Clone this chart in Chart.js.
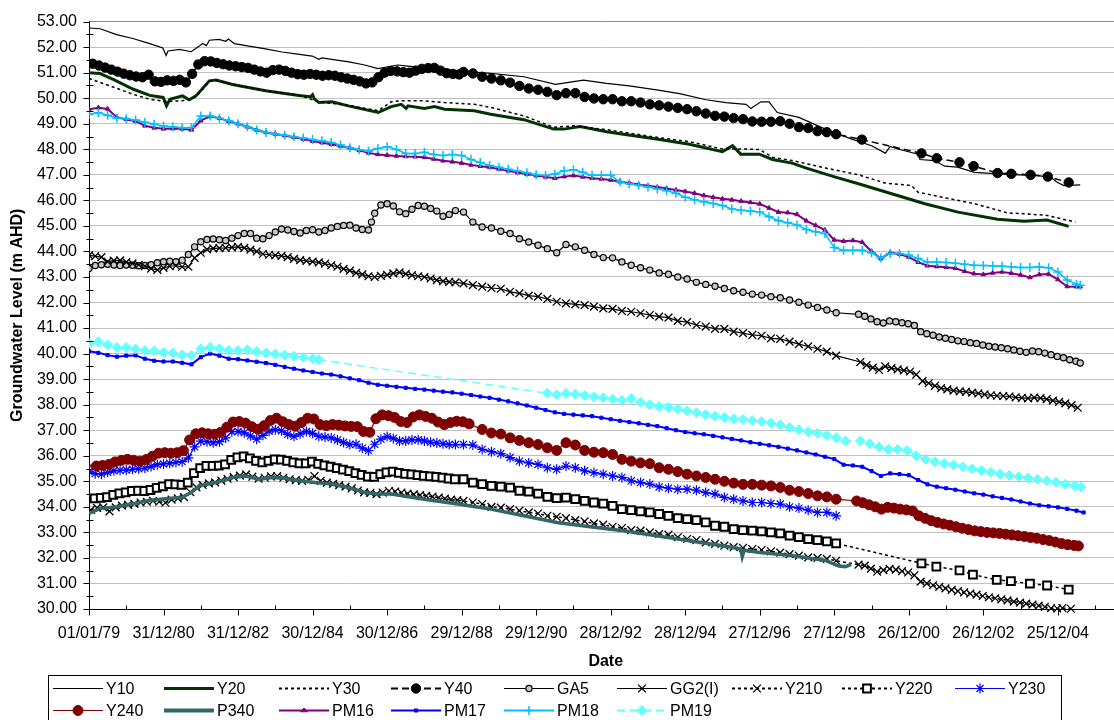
<!DOCTYPE html>
<html>
<head>
<meta charset="utf-8">
<title>Groundwater Level Hydrographs</title>
<style>
  html, body { margin: 0; padding: 0; background: #fff; overflow: hidden; }
  #wrap { width: 1130px; height: 720px; }
</style>
<script src="https://cdn.jsdelivr.net/npm/chart.js@4.4.1/dist/chart.umd.min.js"></script>
</head>
<body>
<div id="wrap"><canvas id="chart" width="1130" height="720"></canvas></div>
<script>
// ---- Axis ticks ----
const X_TICK_LABELS = ['01/01/79', '31/12/80', '31/12/82', '30/12/84', '30/12/86', '29/12/88', '29/12/90',
  '28/12/92', '28/12/94', '27/12/96', '27/12/98', '26/12/00', '26/12/02', '25/12/04'];
const X_TICK_STEP_DAYS = 730;
const X_MAX_DAYS = 10123;
const Y_MIN = 30, Y_MAX = 53;

// ---- Bore readings ----
// Each row is either [year, level] or a run [firstYear, yearsBetweenReadings, level, level, ...]
const Y10 = [[1979.0,52.75],[1979.3,52.72],[1979.74,52.49],[1980.2,52.33],[1980.63,52.14],[1980.98,51.97],[1981.07,51.67],
  [1981.12,51.85],[1981.43,51.91],[1981.74,51.82],[1981.96,52.04],[1982.05,52.14],[1982.15,52.06],[1982.23,52.27],[1982.49,52.30],
  [1982.67,52.23],[1982.74,52.32],[1982.9,52.14],[1983.29,52.04],[1983.74,51.93],[1984.18,51.81],[1984.6,51.73],[1984.99,51.65],
  [1985.17,51.52],[1985.25,51.58],[1985.97,51.42],[1986.4,51.30],[1986.75,51.16],[1987.29,51.30],[1987.56,51.26],[1988.0,51.20],
  [1988.89,51.07],[1989.78,50.97],[1990.67,50.84],[1991.52,50.54],[1992.27,50.71],[1992.89,50.58],[1993.5,50.48],[1994.23,50.33],
  [1994.85,50.18],[1995.56,49.94],[1996.09,49.83],[1996.63,49.76],[1996.76,49.60],[1997.03,49.86],[1997.25,49.86],[1997.47,49.44],
  [1998.05,49.25],[1998.76,48.79],[1999.47,48.40],[2000.0,48.14],[2000.37,47.85],[2000.5,48.11],[2000.71,48.01],[2001.25,47.81],
  [2001.3,47.60],[2001.69,47.56],[2001.96,47.34],[2002.31,47.30],[2002.76,47.10],[2003.65,47.02],[2004.45,46.97],[2004.8,46.91],
  [2004.98,46.71],[2005.16,46.58],[2005.6,46.61]];

const Y20 = [[1979.0,51.00],[1979.29,50.97],[1979.65,50.74],[1980.19,50.35],[1980.63,50.11],[1980.99,50.03],[1981.08,49.70],
  [1981.17,49.96],[1981.51,50.09],[1981.69,49.94],[1981.87,50.09],[1982.23,50.68],[1982.41,50.71],[1982.85,50.54],[1983.74,50.29],
  [1984.63,50.11],[1984.95,50.06],[1985.0,50.14],[1985.05,49.97],[1985.17,49.83],[1985.52,49.86],[1985.96,49.70],[1986.76,49.44],
  [1987.11,49.67],[1987.38,49.76],[1987.51,49.60],[1987.56,49.70],[1988.0,49.60],[1988.27,49.67],[1988.54,49.57],[1989.34,49.51],
  [1989.78,49.37],[1990.67,49.16],[1991.47,48.79],[1991.74,48.79],[1992.18,48.89],[1992.89,48.69],[1993.34,48.59],[1994.23,48.40],
  [1995.11,48.20],[1996.0,47.91],[1996.27,48.14],[1996.49,47.81],[1996.99,47.81],[1997.34,47.60],[1997.87,47.46],[1998.23,47.27],
  [1999.03,46.91],[1999.65,46.65],[2000.54,46.26],[2001.43,45.87],[2002.32,45.54],[2003.38,45.26],[2004.09,45.18],[2004.71,45.23],
  [2005.29,44.98]];

const Y30 = [[1979.0,50.77],[1979.57,50.48],[1980.19,50.15],[1980.63,49.96],[1981.07,49.87],[1981.51,49.90],[1981.87,50.05],
  [1982.23,50.66],[1982.41,50.70],[1982.85,50.55],[1983.74,50.30],[1984.63,50.12],[1985.17,49.86],[1985.96,49.72],[1986.76,49.51],
  [1987.11,49.86],[1987.38,49.90],[1988.0,49.90],[1988.54,49.83],[1989.34,49.76],[1989.78,49.64],[1990.67,49.31],[1991.47,48.86],
  [1992.0,48.92],[1992.89,48.77],[1994.23,48.47],[1995.11,48.30],[1996.0,48.01],[1996.63,48.01],[1996.99,47.99],[1997.34,47.69],
  [1997.87,47.56],[1998.76,47.27],[1999.65,47.00],[2000.36,46.68],[2001.07,46.58],[2001.25,46.32],[2001.87,46.13],[2002.76,45.87],
  [2003.65,45.51],[2004.09,45.48],[2004.71,45.41],[2005.47,45.15]];

const Y40 = [
  [1979.10, 1/6, 51.35,51.28,51.20,51.12,51.04,50.96, 50.90,50.85,50.82,50.92,50.66,50.64, 50.70,50.68,50.72,50.62,50.95,51.32,
    51.45,51.44,51.38,51.33,51.28,51.25, 51.22,51.19,51.12,51.05,51.00,51.10, 51.12,51.07,51.00,50.94,50.92,50.95,
    50.92,50.88,50.90,50.88,50.82,50.77, 50.72,50.66,50.58,50.62,50.82,51.00, 51.07,51.05,51.02,51.00,51.08,51.15,
    51.18,51.19,51.08,50.98,50.95,50.93],
  [1989.05, 0.25, 51.03,50.97,50.84,50.77, 50.70,50.61,50.48,50.38, 50.33,50.25,50.12,50.20, 50.20,50.05,49.99,49.96,
    49.96,49.88,49.88,49.83, 49.76,49.72,49.67,49.62, 49.57,49.49,49.40,49.31, 49.28,49.22,49.18,49.09,
    49.08,49.08,49.10,49.00, 48.87,48.83,48.71,48.67, 48.59],
  [1999.74,48.38],[2001.34,47.84],[2001.75,47.65],[2002.36,47.49],[2002.74,47.34],[2003.38,47.07],[2003.75,47.04],
  [2004.27,47.00],[2004.73,46.93],[2005.29,46.70]];

const GA5 = [
  [1979.00, 1/6, 43.33,43.45,43.48,43.50,43.47,43.45, 43.47,43.46,43.44,43.45,43.48,43.56, 43.60,43.62,43.60,43.66,43.88,44.18,
    44.38,44.47,44.49,44.46,44.43,44.52, 44.62,44.70,44.70,44.52,44.50,44.62, 44.76,44.88,44.84,44.78,44.72,44.82,
    44.85,44.76,44.82,44.92,44.98,45.02, 45.03,44.92,44.86,44.84,45.50,45.82, 45.87,45.78,45.55,45.48,45.65,45.80,
    45.77,45.68,45.58,45.38,45.45,45.60],
  [1986.58,45.15],
  [1989.05, 0.25, 45.54,45.15,44.96,44.92, 44.79,44.70,44.50,44.37, 44.24,44.11,43.95,44.27, 44.18,44.05,43.88,43.76,
    43.75,43.59,43.46,43.36, 43.27,43.16,43.11,43.00, 42.92,42.79,42.71,42.64, 42.55,42.46,42.40,42.33,
    42.29,42.23,42.19,42.10, 42.01,41.90,41.81,41.71, 41.60],
  [1999.65, 1/6, 41.54,41.46,41.36,41.25,41.20,41.28, 41.25,41.21,41.17,41.10,40.86,40.78, 40.72,40.65,40.60,40.55,40.50,40.47,
    40.43,40.40,40.34,40.29,40.26,40.23, 40.19,40.14,40.09,40.05,40.10,40.07, 40.02,39.96,39.89,39.84,39.76,39.70],
  [2005.60,39.63]];

const GG2 = [
  [1979.00, 1/6, 43.85,43.82,43.78,43.60,43.64,43.65, 43.58,43.53,43.48,43.42,43.33,43.28, 43.36,43.42,43.44,43.40,43.40,43.75,
    43.95,44.08,44.12,44.13,44.14,44.16, 44.18,44.14,44.07,44.00,43.90,43.87, 43.85,43.83,43.78,43.71,43.66,43.63,
    43.60,43.57,43.52,43.46,43.40,43.32, 43.25,43.16,43.10,43.03,43.00,43.04, 43.08,43.14,43.18,43.12,43.07,43.03,
    43.00,42.94,42.88,42.84,42.81,42.79],
  [1989.05, 0.25, 42.75,42.68,42.62,42.57, 42.54,42.42,42.36,42.27, 42.23,42.14,42.03,41.97, 41.93,41.90,41.84,41.77,
    41.75,41.67,41.64,41.58, 41.51,41.45,41.41,41.28, 41.23,41.12,41.06,40.97, 40.97,40.86,40.80,40.73,
    40.70,40.60,40.58,40.47, 40.37,40.28,40.19,40.08, 39.92],
  [1999.70, 1/6, 39.67,39.55,39.45,39.36,39.50,39.43, 39.38,39.34,39.30,39.18,38.92,38.84, 38.74,38.65,38.60,38.55,38.52,38.50,
    38.47,38.44,38.40,38.37,38.35,38.34, 38.32,38.29,38.27,38.25,38.28,38.26, 38.22,38.16,38.11,38.05,37.98,37.88]];

const Y210 = [
  [1979.05, 1/6, 33.88,33.96,33.98,33.82,33.98,34.05, 34.08,34.12,34.17,34.20,34.23,34.20, 34.16,34.28,34.33,34.38,34.58,34.76,
    34.86,34.92,34.96,35.03,35.10,35.16, 35.22,35.27,35.18,35.10,35.14,35.19, 35.20,35.14,35.08,35.05,35.02,35.06,
    35.20,35.02,34.95,34.90,34.85,34.79, 34.72,34.64,34.57,34.55,34.50,34.56, 34.62,34.60,34.56,34.52,34.49,34.46,
    34.43,34.40,34.36,34.32,34.28,34.26],
  [1989.05, 0.25, 34.23,34.17,34.11,34.00, 33.97,33.91,33.85,33.78, 33.74,33.65,33.61,33.56, 33.48,33.43,33.35,33.30,
    33.22,33.17,33.09,33.07, 33.00,32.94,32.91,32.81, 32.74,32.70,32.61,32.55, 32.48,32.42,32.39,32.35,
    32.31,32.26,32.21,32.15, 32.09,32.02,32.00,31.96, 31.89],
  [1999.65, 1/6, 31.74,31.70,31.58,31.46,31.52,31.57, 31.54,31.48,31.43,31.32,31.07,31.00, 30.93,30.87,30.81,30.75,30.70,30.65,
    30.60,30.56,30.51,30.46,30.42,30.38, 30.34,30.29,30.25,30.21,30.17,30.13, 30.08,30.03,30.02],
  [2005.12,30.04],[2005.35,30.01]];

const Y220 = [
  [1979.15, 1/6, 34.33,34.35,34.38,34.47,34.53,34.57, 34.62,34.63,34.62,34.66,34.74,34.80, 34.89,34.88,34.86,34.95,35.32,35.52,
    35.60,35.60,35.61,35.66,35.84,35.94, 35.98,35.90,35.80,35.74,35.80,35.86, 35.85,35.80,35.74,35.70,35.70,35.77,
    35.68,35.62,35.57,35.52,35.46,35.40, 35.32,35.25,35.18,35.17,35.28,35.35, 35.38,35.33,35.29,35.27,35.24,35.21,
    35.19,35.17,35.14,35.11,35.08],
  [1989.05, 0.25, 35.08,34.95,34.89,34.82, 34.79,34.75,34.63,34.60, 34.52,34.39,34.34,34.36, 34.30,34.23,34.17,34.13,
    34.04,33.91,33.87,33.82, 33.78,33.72,33.65,33.56, 33.52,33.48,33.39,33.26, 33.22,33.13,33.09,33.07,
    33.04,33.00,32.96,32.87, 32.81,32.74,32.70,32.65, 32.57],
  [2001.34,31.79],[2001.74,31.66],[2002.36,31.51],[2002.72,31.35],[2003.36,31.14],[2003.74,31.09],[2004.25,30.99],
  [2004.71,30.92],[2005.29,30.76]];

const Y230 = [
  [1979.00, 1/6, 35.38,35.30,35.28,35.35,35.41,35.43, 35.44,35.47,35.49,35.52,35.58,35.65, 35.68,35.71,35.74,35.77,35.92,36.35,
    36.57,36.55,36.51,36.55,36.70,36.94, 36.95,36.90,36.78,36.65,36.80,36.96, 37.02,36.98,36.84,36.76,36.86,36.95,
    36.88,36.76,36.73,36.70,36.62,36.52, 36.44,36.45,36.30,36.20,36.45,36.65, 36.75,36.68,36.58,36.58,36.62,36.63,
    36.58,36.53,36.50,36.47,36.44,36.44],
  [1989.05, 0.25, 36.44,36.42,36.25,36.16, 36.08,35.93,35.79,35.72, 35.66,35.53,35.47,35.60, 35.53,35.41,35.34,35.28,
    35.21,35.15,35.02,34.95, 34.89,34.78,34.73,34.69, 34.69,34.65,34.56,34.50, 34.37,34.30,34.23,34.17,
    34.17,34.13,34.11,34.00, 33.95,33.87,33.78,33.78, 33.65]];

const Y240 = [
  [1978.90,35.60],
  [1979.20, 1/6, 35.60,35.62,35.66,35.76,35.82,35.86, 35.82,35.79,35.85,35.98,36.10,36.12, 36.10,36.12,36.20,36.62,36.86,36.90,
    36.86,36.84,36.92,37.12,37.32,37.34, 37.28,37.14,37.04,37.18,37.38,37.47, 37.33,37.22,37.16,37.30,37.47,37.44,
    37.22,37.18,37.22,37.20,37.17,37.15, 37.14,36.95,36.92,37.45,37.60,37.57, 37.50,37.34,37.30,37.52,37.60,37.54,
    37.47,37.32,37.22,37.30,37.35,37.33, 37.25],
  [1989.55, 0.25, 37.03,36.89, 36.85,36.70,36.60,36.51, 36.44,36.31,36.21,36.51, 36.42,36.21,36.14,36.12,
    36.05,35.86,35.79,35.72, 35.69,35.53,35.47,35.38, 35.28,35.21,35.15,35.08, 35.00,34.93,34.88,34.88,
    34.85,34.82,34.76,34.65, 34.60,34.52,34.43,34.39, 34.30],
  [1999.60, 1/6, 34.23,34.16,34.08,34.00,33.91,33.98, 33.95,33.91,33.88,33.84,33.65,33.55, 33.46,33.39,33.33,33.28,33.22,33.16,
    33.11,33.06,33.03,33.00,32.98,32.96, 32.93,32.90,32.87,32.84,32.80,32.77, 32.72,32.68,32.62,32.56,32.52,32.49],
  [2005.55,32.47]];

const P340 = [[1979.0,33.74],[1979.29,33.93],[1979.74,34.00],[1980.19,34.12],[1980.63,34.26],[1981.07,34.32],[1981.51,34.38],
  [1981.74,34.56],[1981.96,34.82],[1982.4,34.95],[1982.85,35.15],[1983.2,35.21],[1983.56,35.08],[1983.91,35.15],[1984.27,35.12],
  [1984.63,35.02],[1985.07,34.95],[1985.52,34.89],[1985.96,34.76],[1986.4,34.56],[1986.76,34.50],[1987.11,34.50],[1988.0,34.30],
  [1988.89,34.11],[1989.78,33.91],[1990.67,33.65],[1991.56,33.39],[1992.45,33.22],[1993.34,33.06],[1994.23,32.87],[1995.11,32.67],
  [1996.0,32.48],[1996.36,32.39],[1996.49,32.35],[1996.53,32.05],[1996.58,32.30],[1997.0,32.21],[1997.87,32.09],[1998.76,31.90],
  [1999.12,31.68],[1999.3,31.66],[1999.45,31.75]];

const PM16 = [
  [1979.00, 0.25, 49.57,49.63,49.58,49.25, 49.18,49.10,48.92,48.84, 48.80,48.81,48.80,48.76, 49.12,49.29,49.22,49.10,
    49.00,48.88,48.76,48.66, 48.60,48.54,48.47,48.40, 48.32,48.26,48.20,48.13, 48.06,47.96,47.86,47.80,
    47.77,47.74,47.72,47.71, 47.69,47.62,47.55,47.51, 47.46,47.39,47.34,47.30, 47.23,47.16,47.09,47.03,
    46.97,46.92,46.87,46.93, 46.97,46.92,46.87,46.84, 46.80,46.73,46.68,46.62, 46.57,46.52,46.47,46.41,
    46.35,46.28,46.19,46.12, 46.06,46.02,45.97,45.92, 45.86,45.70,45.54,45.52, 45.45,45.20,45.02,44.84,
    44.45,44.40,44.43,44.36, 44.00,43.72,43.95,43.90, 43.78,43.58,43.44,43.41, 43.38,43.34,43.22,43.13,
    43.10,43.16,43.20,43.15, 43.08,42.98,43.10,43.12, 42.90,42.63,42.62],
  [2005.60,42.62]];

const PM17 = [
  [1979.00, 0.25, 40.09,40.03,39.94,39.88, 39.92,39.93,39.80,39.72, 39.69,39.69,39.64,39.58, 39.86,40.00,39.92,39.80,
    39.78,39.73,39.68,39.63, 39.56,39.48,39.41,39.34, 39.28,39.22,39.18,39.11, 39.03,38.96,38.86,38.78,
    38.74,38.70,38.66,38.62, 38.59,38.55,38.51,38.48, 38.43,38.38,38.32,38.27, 38.20,38.13,38.05,37.97,
    37.88,37.79,37.70,37.64, 37.61,37.58,37.55,37.49, 37.43,37.37,37.32,37.27, 37.21,37.16,37.08,37.00,
    36.93,36.88,36.84,36.78, 36.72,36.66,36.60,36.53, 36.47,36.41,36.35,36.28, 36.21,36.13,36.05,35.96,
    35.87,35.65,35.62,35.57, 35.40,35.21,35.31,35.28, 35.24,35.05,34.88,34.79, 34.73,34.67,34.60,34.53,
    34.48,34.41,34.35,34.29, 34.21,34.13,34.06,34.02, 33.98,33.92,33.85],
  [2005.69,33.78]];

const PM18 = [
  [1979.00, 0.25, 49.37,49.43,49.33,49.22, 49.20,49.15,49.06,48.98, 48.91,48.88,48.84,48.85, 49.30,49.30,49.22,49.12,
    49.00,48.88,48.76,48.66, 48.60,48.55,48.49,48.44, 48.38,48.33,48.27,48.17, 48.06,47.98,47.92,48.03,
    48.10,47.99,47.84,47.84, 47.88,47.80,47.76,47.80, 47.76,47.60,47.48,47.37, 47.30,47.22,47.15,47.08,
    47.00,46.97,47.03,47.16, 47.20,47.10,46.98,46.98, 46.98,46.72,46.65,46.59, 46.52,46.45,46.38,46.28,
    46.12,46.02,45.95,45.88, 45.80,45.66,45.61,45.58, 45.54,45.36,45.20,45.12, 45.04,44.86,44.77,44.70,
    44.15,44.05,44.05,44.05, 43.95,43.74,43.92,43.92, 43.86,43.72,43.59,43.59, 43.57,43.54,43.50,43.46,
    43.45,43.44,43.42,43.40, 43.37,43.37,43.40,43.36, 43.20,42.88,42.72],
  [2005.60,42.68]];

const PM19 = [
  [1979.00, 0.25, 40.40,40.46,40.34,40.24, 40.24,40.18,40.12,40.10, 40.05,40.02,39.95,39.92, 40.18,40.24,40.19,40.12,
    40.12,40.15,40.08,40.02, 39.98,39.94,39.90,39.85, 39.80],
  [1985.16,39.76],
  [1991.30, 0.25, 38.45,38.39,38.44, 38.42,38.36,38.31,38.27, 38.22,38.17,38.24,38.10, 38.00,37.93,37.89,37.83,
    37.76,37.69,37.61,37.55, 37.50,37.44,37.42,37.38, 37.34,37.28,37.21,37.11, 37.02,36.94,36.88,36.80, 36.71,36.58],
  [1999.70, 0.25, 36.58,36.47,36.34,36.25, 36.25,36.21,36.00,35.86, 35.77,35.70,35.64,35.57, 35.49,35.42,35.35,35.29,
    35.23,35.18,35.13,35.08, 35.02,34.96,34.89,34.83],
  [2005.62,34.77]];

// ---- Helpers ----
function toDays(year) { return (year - 1979) * 365; }

function expand(rows) {
  const pts = [];
  rows.forEach(r => {
    if (r.length === 2) { pts.push({ x: toDays(r[0]), y: r[1] }); return; }
    const [start, step, ...levels] = r;
    levels.forEach((v, i) => pts.push({ x: toDays(start + i * step), y: v }));
  });
  return pts.sort((a, b) => a.x - b.x);
}

// ---- Series appearance ----
const SERIES = [
  { label: 'Y10',    rows: Y10,  color: '#000000', width: 1.2, dash: [] },
  { label: 'Y20',    rows: Y20,  color: '#003300', width: 3,   dash: [] },
  { label: 'Y30',    rows: Y30,  color: '#000000', width: 1.5, dash: [3, 3] },
  { label: 'Y40',    rows: Y40,  color: '#000000', width: 1.5, dash: [7, 4], marker: 'circle', r: 4.7, fill: '#000000', stroke: '#000000', mw: 1 },
  { label: 'GA5',    rows: GA5,  color: '#000000', width: 1.2, dash: [], marker: 'circle', r: 3.1, fill: '#c8c8c8', stroke: '#000000', mw: 1.2 },
  { label: 'GG2(I)', rows: GG2,  color: '#000000', width: 1.2, dash: [], marker: 'crossRot', r: 5.5, fill: '#000000', stroke: '#000000', mw: 1.3 },
  { label: 'Y210',   rows: Y210, color: '#000000', width: 1.5, dash: [3, 3], marker: 'crossRot', r: 5.5, fill: '#000000', stroke: '#000000', mw: 1.3 },
  { label: 'Y220',   rows: Y220, color: '#000000', width: 1.5, dash: [3, 3], marker: 'rect', r: 5.5, fill: '#ffffff', stroke: '#000000', mw: 2 },
  { label: 'Y230',   rows: Y230, color: '#0000ff', width: 1.2, dash: [], marker: 'star', r: 5, fill: '#0000ff', stroke: '#0000ff', mw: 1.2 },
  { label: 'Y240',   rows: Y240, color: '#800000', width: 1.2, dash: [], marker: 'circle', r: 5, fill: '#800000', stroke: '#800000', mw: 1 },
  { label: 'P340',   rows: P340, color: '#336666', width: 3.5, dash: [] },
  { label: 'PM16',   rows: PM16, color: '#800080', width: 2,   dash: [], marker: 'triangle', r: 2.6, fill: '#800080', stroke: '#800080', mw: 1 },
  { label: 'PM17',   rows: PM17, color: '#0000ff', width: 2,   dash: [], marker: 'rect', r: 2.2, fill: '#0000ff', stroke: '#0000ff', mw: 1 },
  { label: 'PM18',   rows: PM18, color: '#00c0ff', width: 1.5, dash: [], marker: 'cross', r: 4.5, fill: '#00c0ff', stroke: '#00c0ff', mw: 1.5 },
  { label: 'PM19',   rows: PM19, color: '#66ffff', width: 1.5, dash: [8, 5], marker: 'rectRot', r: 5, fill: '#66ffff', stroke: '#66ffff', mw: 1 }
];

const FONT_FAMILY = '"Liberation Sans", Arial, Helvetica, sans-serif';

// ---- Marker drawing for the legend keys ----
function drawMarker(ctx, s, x, y) {
  if (!s.marker) return;
  const r = s.r;
  ctx.save();
  ctx.setLineDash([]);
  ctx.lineWidth = s.mw;
  ctx.strokeStyle = s.stroke;
  ctx.fillStyle = s.fill;
  ctx.beginPath();
  if (s.marker === 'circle') {
    ctx.arc(x, y, r, 0, Math.PI * 2); ctx.fill(); ctx.stroke();
  } else if (s.marker === 'rect') {
    const h = r * Math.SQRT1_2; ctx.rect(x - h, y - h, 2 * h, 2 * h); ctx.fill(); ctx.stroke();
  } else if (s.marker === 'rectRot') {
    ctx.moveTo(x, y - r); ctx.lineTo(x + r, y); ctx.lineTo(x, y + r); ctx.lineTo(x - r, y); ctx.closePath(); ctx.fill(); ctx.stroke();
  } else if (s.marker === 'triangle') {
    const h = r * 1.5;
    ctx.moveTo(x, y - h * 0.66); ctx.lineTo(x + r * 1.3, y + h * 0.34); ctx.lineTo(x - r * 1.3, y + h * 0.34); ctx.closePath(); ctx.fill(); ctx.stroke();
  } else {
    const d = r * Math.SQRT1_2;
    if (s.marker === 'cross' || s.marker === 'star') {
      ctx.moveTo(x, y - r); ctx.lineTo(x, y + r); ctx.moveTo(x - r, y); ctx.lineTo(x + r, y);
    }
    if (s.marker === 'crossRot' || s.marker === 'star') {
      ctx.moveTo(x - d, y - d); ctx.lineTo(x + d, y + d); ctx.moveTo(x + d, y - d); ctx.lineTo(x - d, y + d);
    }
    ctx.stroke();
  }
  ctx.restore();
}

// ---- Tick marks on both axes (major outside, minor inside) ----
const axisMarks = {
  id: 'axisMarks',
  afterDraw(chart) {
    const { ctx, chartArea: a, scales: { x, y } } = chart;
    ctx.save();
    ctx.strokeStyle = '#000';
    ctx.lineWidth = 1;
    ctx.beginPath();
    for (let d = 0; d <= X_MAX_DAYS; d += X_TICK_STEP_DAYS / 2) {
      const px = Math.round(x.getPixelForValue(d)) + 0.5;
      const major = d % X_TICK_STEP_DAYS === 0;
      const by = Math.round(a.bottom) + 0.5;
      if (major) { ctx.moveTo(px, by); ctx.lineTo(px, by + 6); }
      else { ctx.moveTo(px, by); ctx.lineTo(px, by - 4); }
    }
    for (let v = Y_MIN; v <= Y_MAX; v += 0.5) {
      const py = Math.round(y.getPixelForValue(v)) + 0.5;
      const lx = Math.round(a.left) + 0.5;
      if (Number.isInteger(v)) { ctx.moveTo(lx - 6, py); ctx.lineTo(lx, py); }
      else { ctx.moveTo(lx - 3, py); ctx.lineTo(lx + 4, py); }
    }
    ctx.stroke();
    ctx.restore();
  }
};

// ---- Boxed legend with line-and-marker keys ----
const LEGEND_COL_X = [53, 164, 279, 391, 504, 617, 732, 842, 955];
const LEGEND_ROW_Y = [688, 710];
const boxedLegend = {
  id: 'boxedLegend',
  afterDraw(chart) {
    const ctx = chart.ctx;
    ctx.save();
    ctx.fillStyle = '#fff';
    ctx.fillRect(48, 675, 1013, 60);
    ctx.strokeStyle = '#000';
    ctx.lineWidth = 1;
    ctx.strokeRect(48.5, 675.5, 1013, 60);
    ctx.font = '16px ' + FONT_FAMILY;
    ctx.textBaseline = 'middle';
    SERIES.forEach((s, i) => {
      const row = i < 9 ? 0 : 1;
      const col = i < 9 ? i : i - 9;
      const x0 = LEGEND_COL_X[col];
      const yy = LEGEND_ROW_Y[row] + 0.5;
      ctx.save();
      ctx.strokeStyle = s.color;
      ctx.lineWidth = Math.max(1, Math.round(s.width));
      ctx.setLineDash(s.dash);
      ctx.beginPath();
      ctx.moveTo(x0, yy);
      ctx.lineTo(x0 + 50, yy);
      ctx.stroke();
      ctx.restore();
      drawMarker(ctx, s, x0 + 25, yy);
      ctx.fillStyle = '#000';
      ctx.fillText(s.label, x0 + 53, yy + 1);
    });
    ctx.restore();
  }
};

Chart.defaults.font.family = FONT_FAMILY;
Chart.defaults.font.size = 16;
Chart.defaults.color = '#000';

const datasets = SERIES.map((s, i) => ({
  label: s.label,
  data: expand(s.rows),
  borderColor: s.color,
  borderWidth: s.width,
  borderDash: s.dash,
  fill: false,
  tension: 0,
  pointStyle: s.marker || 'circle',
  pointRadius: s.marker ? s.r : 0,
  pointBackgroundColor: s.fill || s.color,
  pointBorderColor: s.stroke || s.color,
  pointBorderWidth: s.mw || 1,
  order: -i,
  clip: { left: 0, top: 6, right: 0, bottom: 8 }
}));

new Chart(document.getElementById('chart'), {
  type: 'line',
  data: { datasets },
  options: {
    responsive: false,
    animation: false,
    devicePixelRatio: 1,
    events: [],
    layout: { padding: { top: 19, right: 1, left: 0, bottom: 0 } },
    plugins: { legend: { display: false }, tooltip: { enabled: false } },
    scales: {
      x: {
        type: 'linear',
        min: 0,
        max: X_MAX_DAYS,
        afterBuildTicks: scale => { scale.ticks = X_TICK_LABELS.map((_, i) => ({ value: i * X_TICK_STEP_DAYS })); },
        afterFit: scale => { scale.height = 111; },
        ticks: {
          autoSkip: false, maxRotation: 0, minRotation: 0, padding: 15,
          callback: (v, i) => X_TICK_LABELS[i]
        },
        grid: { display: false, drawTicks: false },
        border: { display: true, color: '#000', width: 1 },
        title: { display: true, text: 'Date', font: { weight: 'bold', size: 16 }, padding: { top: 0, bottom: 49 } }
      },
      y: {
        min: Y_MIN,
        max: Y_MAX,
        afterFit: scale => { scale.width = 89; },
        ticks: { stepSize: 1, padding: 12, callback: v => Number(v).toFixed(2) },
        grid: {
          drawTicks: false,
          color: c => (c.tick && c.tick.value === Y_MAX) ? '#8c8c8c' : '#c0c0c0',
          lineWidth: 1
        },
        border: { display: true, color: '#000', width: 1 },
        title: { display: true, text: 'Groundwater Level (m AHD)', font: { weight: 'bold', size: 16 }, padding: { top: 8, bottom: 0 } }
      }
    }
  },
  plugins: [axisMarks, boxedLegend]
});
</script>
</body>
</html>
